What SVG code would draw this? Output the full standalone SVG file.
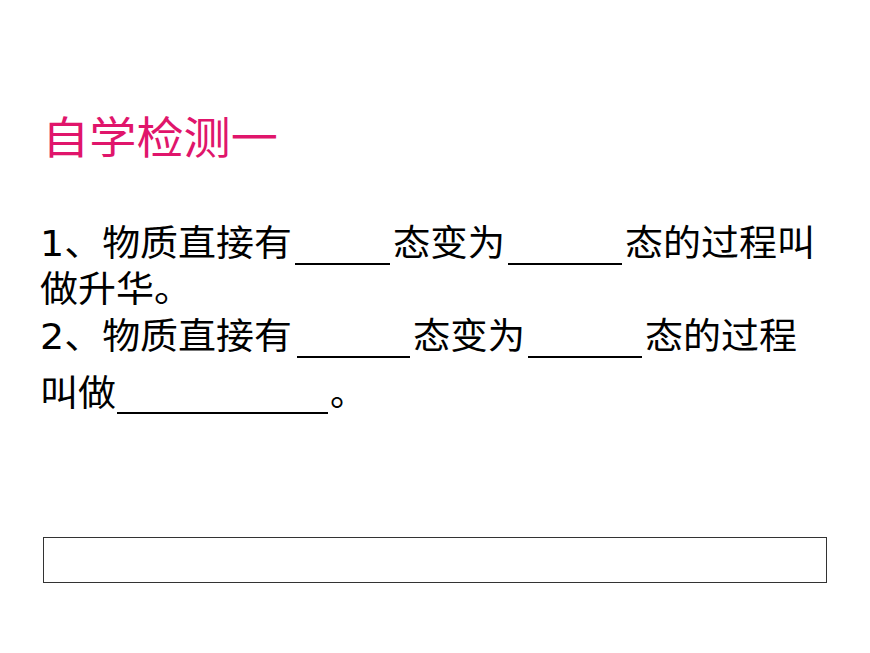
<svg xmlns="http://www.w3.org/2000/svg" width="870" height="653" viewBox="0 0 870 653">
<style>
text{font-family:"DejaVu Sans","Noto Sans CJK SC",sans-serif;font-size:36px;fill:#000}
.t{fill:#E0156B;font-size:44px}
line{stroke:#000;stroke-width:2}
</style>
<rect width="870" height="653" fill="#fff"/>
<text class="t" x="42" y="154" textLength="236" lengthAdjust="spacingAndGlyphs">自学检测一</text>
<text x="40" y="256" textLength="252" lengthAdjust="spacingAndGlyphs">1、物质直接有</text>
<line x1="295" y1="264" x2="390" y2="264"/>
<text x="393" y="256" textLength="112" lengthAdjust="spacingAndGlyphs">态变为</text>
<line x1="508" y1="264" x2="622" y2="264"/>
<text x="625" y="256" textLength="190" lengthAdjust="spacingAndGlyphs">态的过程叫</text>
<text x="40" y="302" textLength="152" lengthAdjust="spacingAndGlyphs">做升华。</text>
<text x="40" y="349" textLength="252" lengthAdjust="spacingAndGlyphs">2、物质直接有</text>
<line x1="297" y1="357" x2="410" y2="357"/>
<text x="413" y="349" textLength="112" lengthAdjust="spacingAndGlyphs">态变为</text>
<line x1="528" y1="357" x2="642" y2="357"/>
<text x="645" y="349" textLength="152" lengthAdjust="spacingAndGlyphs">态的过程</text>
<text x="40" y="406" textLength="76" lengthAdjust="spacingAndGlyphs">叫做</text>
<line x1="117" y1="413" x2="328" y2="413"/>
<text x="330" y="406">。</text>
<rect x="43.5" y="537.5" width="783" height="45" fill="none" stroke="#333" stroke-width="1"/>
</svg>
